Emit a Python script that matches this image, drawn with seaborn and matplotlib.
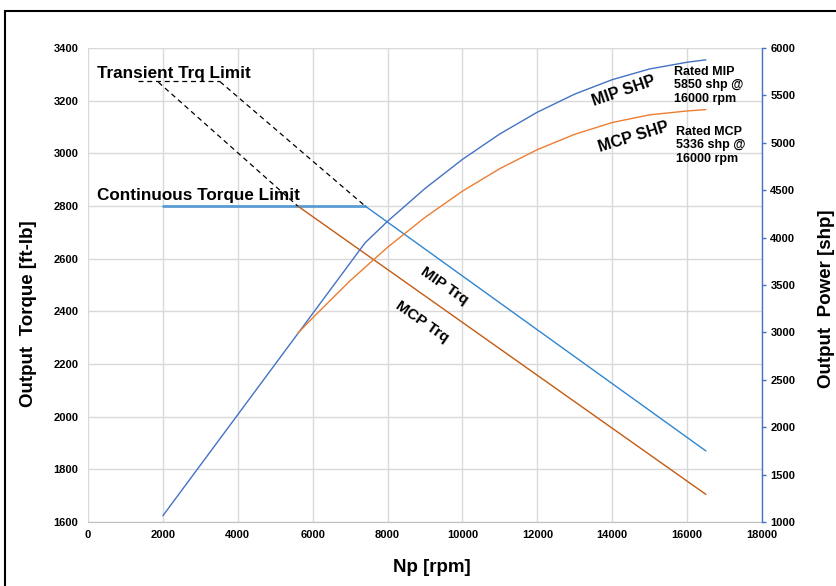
import matplotlib
matplotlib.use("Agg")
import matplotlib.pyplot as plt
import matplotlib.patches as mpatches
import seaborn as sns

# torque curves [ft-lb] vs Np [rpm]
rpm_cont = [2000, 7400]
trq_cont = [2800, 2800]
rpm_mip_trq = [7400, 16500]
trq_mip = [2800, 1870]
rpm_mcp_trq = [5600, 16500]
trq_mcp = [2800, 1705]

# power curves [shp]
rpm_mip_shp = [2000, 7400, 8000, 9000, 10000, 11000, 12000, 13000, 14000, 15000, 16000, 16500]
shp_mip = [1066, 3945, 4172, 4518, 4825, 5094, 5323, 5514, 5666, 5779, 5850, 5875]
rpm_mcp_shp = [5600, 6000, 7000, 8000, 9000, 10000, 11000, 12000, 13000, 14000, 15000, 16000, 16500]
shp_mcp = [2990, 3153, 3545, 3898, 4213, 4490, 4728, 4928, 5090, 5214, 5295, 5336, 5350]

# transient limit leader lines (dashed)
lead_x = [[1335, 3526], [1880, 5600], [3526, 7400]]
lead_y = [[3276, 3276], [3270, 2800], [3272, 2800]]

sns.set_style("white")
plt.rcParams["font.family"] = ["Liberation Sans", "DejaVu Sans"]
plt.rcParams["font.weight"] = "bold"
plt.rcParams["text.color"] = "black"
plt.rcParams["axes.labelcolor"] = "black"
plt.rcParams["xtick.color"] = "black"
plt.rcParams["ytick.color"] = "black"

fig = plt.figure(figsize=(8.36, 5.86), dpi=100)
ax = fig.add_axes([88 / 836, 1 - 522 / 586, 674 / 836, 474 / 586])
ax2 = ax.twinx()

grid_c = "#d9d9d9"
sns.lineplot(x=rpm_cont, y=trq_cont, ax=ax, color="#5b9bd5", linewidth=2.0)
sns.lineplot(x=rpm_mip_trq, y=trq_mip, ax=ax, color="#2f85d0", linewidth=1.0)
sns.lineplot(x=rpm_mcp_trq, y=trq_mcp, ax=ax, color="#c55a11", linewidth=1.0)
for xs, ys in zip(lead_x, lead_y):
    ax.plot(xs, ys, color="black", linestyle=(0, (4, 3)), linewidth=0.9)

sns.lineplot(x=rpm_mip_shp, y=shp_mip, ax=ax2, color="#4472c4", linewidth=1.0)
sns.lineplot(x=rpm_mcp_shp, y=shp_mcp, ax=ax2, color="#ed7d31", linewidth=1.0)

ax.set_xlim(0, 18000)
ax.set_ylim(1600, 3400)
ax2.set_ylim(1000, 6000)
ax.set_xticks(range(0, 18001, 2000))
ax.set_yticks(range(1600, 3401, 200))
ax2.set_yticks(range(1000, 6001, 500))

ax.grid(True, color=grid_c, linewidth=1.0)
ax.set_axisbelow(True)
for s in ["top", "left", "right"]:
    ax.spines[s].set_visible(False)
ax.spines["bottom"].set_color("#bfbfbf")
for s in ["top", "left", "bottom"]:
    ax2.spines[s].set_visible(False)
ax2.spines["right"].set_color("#4472c4")
ax2.spines["right"].set_linewidth(1.0)

ax.tick_params(axis="x", length=0, pad=6, labelsize=8, labelcolor="black")
ax.tick_params(axis="y", length=0, pad=7, labelsize=8, labelcolor="black")
ax2.tick_params(axis="y", length=3, width=1, color="#4472c4", pad=3, labelsize=8, labelcolor="black")
for lab in ax.get_xticklabels() + ax.get_yticklabels() + ax2.get_yticklabels():
    lab.set_fontweight("bold")

ax.set_xlabel("Np [rpm]", fontsize=13.5, fontweight="bold", color="black")
ax.xaxis.set_label_coords(0.51, -0.078)
ax.set_ylabel("Output  Torque [ft-lb]", fontsize=13.5, fontweight="bold", color="black")
ax.yaxis.set_label_coords(-0.076, 0.44)
ax2.set_ylabel("Output  Power [shp]", fontsize=13.5, fontweight="bold", color="black")
ax2.yaxis.set_label_coords(1.083, 0.47)

# annotations
kw = dict(fontweight="bold", color="black")
ax.text(240, 3305, "Transient Trq Limit", fontsize=12.3, va="center", ha="left", **kw)
ax.text(240, 2838, "Continuous Torque Limit", fontsize=12.3, va="center", ha="left", **kw)
ax.text(9509, 2496, "MIP Trq", fontsize=11, rotation=-35, ha="center", va="center", **kw)
ax.text(8921, 2360, "MCP Trq", fontsize=11, rotation=-35, ha="center", va="center", **kw)
ax2.text(14316, 5546, "MIP SHP", fontsize=11.5, rotation=19, ha="center", va="center", **kw)
ax2.text(14583, 5061, "MCP SHP", fontsize=11.5, rotation=17, ha="center", va="center", **kw)
ax2.text(15652, 5810, "Rated MIP\n5850 shp @\n16000 rpm", fontsize=9,
         ha="left", va="top", linespacing=1.15, **kw)
ax2.text(15705, 5177, "Rated MCP\n5336 shp @\n16000 rpm", fontsize=9,
         ha="left", va="top", linespacing=1.15, **kw)

# outer frame of the pasted chart
fig.add_artist(mpatches.Rectangle((5 / 836, -0.05), 1.0, (586 - 11) / 586 + 0.05,
                                  transform=fig.transFigure, fill=False,
                                  edgecolor="black", linewidth=1.5))

fig.savefig("out.png", dpi=100)
